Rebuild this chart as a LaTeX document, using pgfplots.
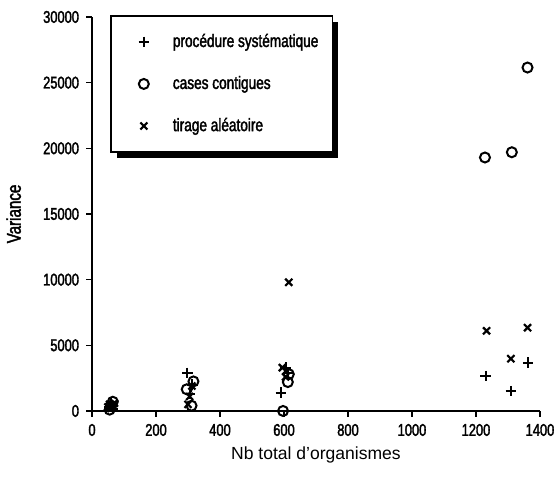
\documentclass[border=0pt]{standalone}
\usepackage{fontspec}
\setmainfont{Liberation Sans}
\newfontfamily\cond{Liberation Sans}[FakeStretch=0.76,FakeBold=2]
\usepackage{pgfplots}
\pgfplotsset{compat=1.18}
\usetikzlibrary{shadows}
\begin{document}
\begin{tikzpicture}
\begin{axis}[
  scale only axis,
  width=224bp, height=197bp,
  xmin=0, xmax=1400, ymin=0, ymax=30000,
  axis lines=left,
  axis line style={-, line width=0.8bp},
  xtick={0,200,...,1400},
  ytick={0,5000,...,30000},
  tick align=outside,
  major tick length=3bp,
  tick style={line width=0.7bp, black},
  /pgf/number format/assume math mode=true,
  /pgf/number format/1000 sep={},
  scaled y ticks=false,
  ticklabel style={font=\cond\fontsize{8.5}{10}\selectfont},
  xlabel={Nb total d'organismes},
  ylabel={Variance},
  every axis y label/.style={at={(rel axis cs:-0.175,0.5)}, rotate=90, anchor=center, font=\cond\fontsize{10}{12}\selectfont},
  every axis x label/.style={at={(rel axis cs:0.5,-0.074)}, anchor=north, font=\fontsize{8.8}{10.5}\selectfont},
  legend style={at={(rel axis cs:0.04,1.005)}, anchor=north west,
    draw=black, line width=0.8bp, fill=white,
    drop shadow={shadow xshift=3bp, shadow yshift=-3bp, fill=black, opacity=1},
    font=\cond\fontsize{9}{10.8}\selectfont,
    row sep=9bp, inner xsep=5bp, inner ysep=7bp},
  legend cell align=left,
  legend image code/.code={\path (0bp,-1bp) (23bp,1bp); \path[#1,draw=none] plot coordinates {(11bp,0bp)};},
]
\addplot[only marks, mark=+, mark size=2.6bp, line width=1bp, black] coordinates {
 (55,300) (60,600) (65,150)
 (298,2900) (307,1300) (314,2000)
 (590,1400) (605,3300) (612,2900)
 (1230,2660) (1309,1520) (1363,3680)
};
\addlegendentry{procédure systématique}
\addplot[only marks, mark=o, mark size=2.5bp, line width=1bp, black] coordinates {
 (55,100) (60,400) (65,700)
 (296,1650) (317,2250) (311,400)
 (597,0) (612,2200) (615,2800)
 (1228,19300) (1312,19700) (1361,26150)
};
\addlegendentry{cases contigues}
\addplot[only marks, mark=x, mark size=2.5bp, line width=1.1bp, black] coordinates {
 (55,500) (60,200) (65,400) (50,300) (70,600)
 (300,500) (305,1100) (312,1900)
 (595,3300) (605,2600) (615,9800)
 (1233,6100) (1309,3980) (1361,6340)
};
\addlegendentry{tirage aléatoire}
\coordinate (bl) at (rel axis cs:-0.2054,-0.1726);
\coordinate (tr) at (rel axis cs:1.0402,1.0431);
\end{axis}
\pgfresetboundingbox
\path[use as bounding box] (bl) rectangle (tr);
\end{tikzpicture}
\end{document}
